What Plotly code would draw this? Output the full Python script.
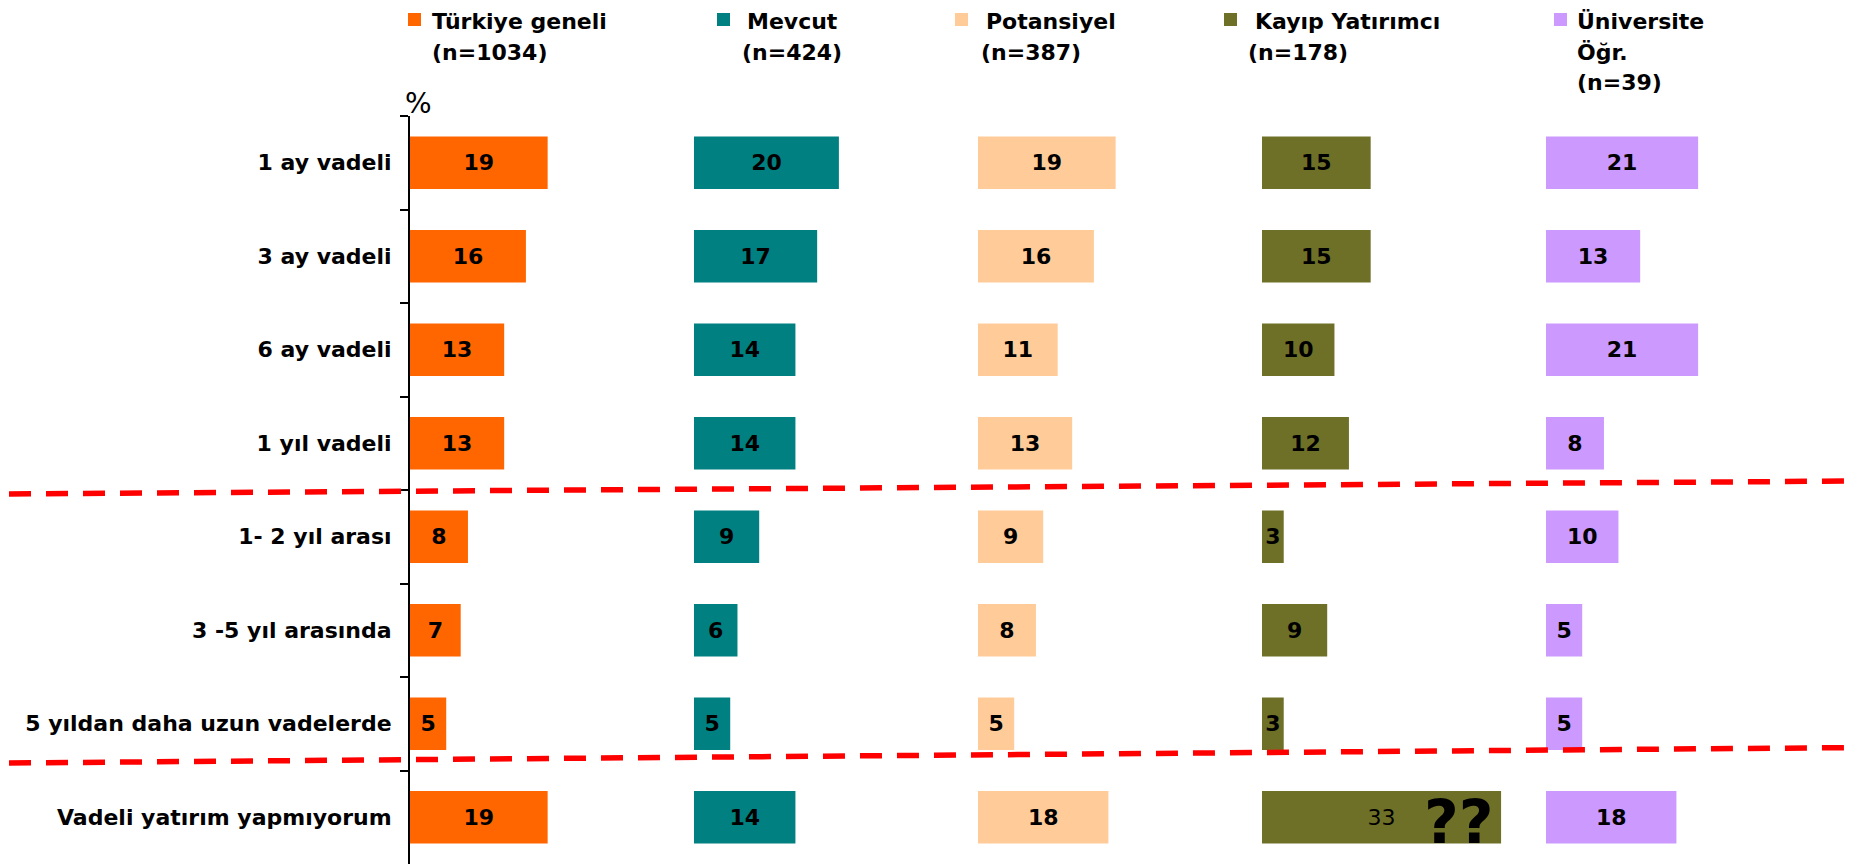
import plotly.graph_objects as go

categories = ["1 ay vadeli", "3 ay vadeli", "6 ay vadeli", "1 yıl vadeli",
              "1- 2 yıl arası", "3 -5 yıl arasında", "5 yıldan daha uzun vadelerde",
              "Vadeli yatırım yapmıyorum"]
turkiye = [19, 16, 13, 13, 8, 7, 5, 19]
mevcut = [20, 17, 14, 14, 9, 6, 5, 14]
potansiyel = [19, 16, 11, 13, 9, 8, 5, 18]
kayip = [15, 15, 10, 12, 3, 9, 3, 33]
universite = [21, 13, 21, 8, 10, 5, 5, 18]

series_names = ["Türkiye geneli", "Mevcut", "Potansiyel", "Kayıp Yatırımcı", "Üniversite Öğr."]
legend_lines = [["Türkiye geneli", "(n=1034)"], ["Mevcut", "(n=424)"], ["Potansiyel", "(n=387)"],
                ["Kayıp Yatırımcı", "(n=178)"], ["Üniversite", "Öğr.", "(n=39)"]]
colors = ["#FF6600", "#008080", "#FFCC99", "#6F7028", "#CC99FF"]
all_values = [turkiye, mevcut, potansiyel, kayip, universite]

FONT = "DejaVu Sans"
OFF = 8  # page body margin
W, H = 1860, 866
L, T = 402, 108
PW, PH = 1420, 748
R = W - L - PW
B = H - T - PH
XMAX = 39.2


def px_x(s):
    return (s - OFF - L) / PW


def px_y(s):
    return ((H - B) - (s - OFF)) / PH


fig = go.Figure()
for i, (name, vals, col) in enumerate(zip(series_names, all_values, colors)):
    xa = "x" if i == 0 else f"x{i+1}"
    texts = []
    for j, v in enumerate(vals):
        if name == "Kayıp Yatırımcı" and j == len(vals) - 1:
            texts.append(str(v))
        else:
            texts.append(f"<b>{v}</b>")
    fig.add_trace(go.Bar(
        name=name, y=categories, x=vals, orientation="h",
        xaxis=xa, yaxis="y",
        marker=dict(color=col, line=dict(width=0)),
        text=texts, textposition="inside", insidetextanchor="middle",
        textangle=0, constraintext="none",
        insidetextfont=dict(family=FONT, size=22, color="black"),
        showlegend=False,
    ))

layout = dict(
    width=W, height=H,
    margin=dict(l=L, r=R, t=T, b=B, pad=0),
    paper_bgcolor="white", plot_bgcolor="white",
    bargap=0.44,
    yaxis=dict(categoryorder="array", categoryarray=categories, autorange="reversed",
               showline=True, linecolor="black", linewidth=2,
               ticks="outside", ticklen=8, tickwidth=2, tickcolor="black",
               tickson="boundaries", showgrid=False, zeroline=False,
               tickfont=dict(family=FONT, size=22, color="black", weight="bold"),
               ticklabelstandoff=12, anchor="x"),
)
for i in range(5):
    key = "xaxis" if i == 0 else f"xaxis{i+1}"
    layout[key] = dict(domain=[i / 5, (i + 1) / 5], range=[0, XMAX], visible=False,
                       anchor="y", showgrid=False, zeroline=False)
fig.update_layout(**layout)

# legend squares and text
sq_x = [408, 717, 955, 1224, 1554]
line1_x = [432, 747, 986, 1255, 1577]
line2_x = [432, 742, 981, 1248, 1577]
line_y = [21.6, 52.6, 83.0]
for k in range(5):
    fig.add_shape(type="rect", xref="paper", yref="paper",
                  x0=px_x(sq_x[k]), x1=px_x(sq_x[k] + 13), y0=px_y(26), y1=px_y(13),
                  fillcolor=colors[k], line=dict(width=0))
    for ln, txt in enumerate(legend_lines[k]):
        xs = line1_x[k] if ln == 0 else line2_x[k]
        fig.add_annotation(x=px_x(xs - 2), y=px_y(line_y[ln]), xref="paper", yref="paper",
                           text=txt, showarrow=False, xanchor="left", yanchor="middle",
                           font=dict(family=FONT, size=22, color="black", weight="bold"))

fig.add_annotation(x=px_x(403), y=px_y(104), xref="paper", yref="paper", text="%",
                   showarrow=False, xanchor="left", yanchor="middle",
                   font=dict(family=FONT, size=28, color="black"))

fig.add_annotation(x=27.2, y=categories[-1], xref="x4", yref="y", text="??",
                   showarrow=False, xanchor="center", yanchor="middle", yshift=-5,
                   font=dict(family=FONT, size=60, color="black", weight="bold"))

# red dashed separators
for (ya, yb) in [(494, 481), (763, 747.5)]:
    fig.add_shape(type="line", xref="paper", yref="paper",
                  x0=px_x(9), x1=px_x(1860), y0=px_y(ya), y1=px_y(yb),
                  line=dict(color="#FF0000", width=5.5, dash="22px,15px"))

fig.write_html("out.html")
